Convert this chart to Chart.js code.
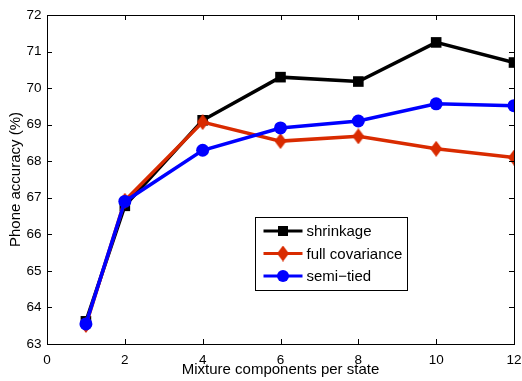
<!DOCTYPE html>
<html><head><meta charset="utf-8">
<script src="https://cdn.jsdelivr.net/npm/chart.js@4/dist/chart.umd.min.js"></script>
<style>html,body{margin:0;padding:0;background:#fff}#wrap{width:522px;height:381px}</style>
</head><body><div id="wrap"><canvas id="c" width="522" height="381"></canvas></div>
<script>
const mixtures = [1, 2, 4, 6, 8, 10, 12];
const shrinkage = [63.62, 66.78, 69.12, 70.30, 70.18, 71.25, 70.70];
const fullCovariance = [63.52, 66.92, 69.07, 68.55, 68.68, 68.34, 68.10];
const semiTied = [63.55, 66.90, 68.30, 68.91, 69.10, 69.57, 69.52];
const seriesNames = ['shrinkage', 'full covariance', 'semi\u2212tied'];
const xTicks = [0, 2, 4, 6, 8, 10, 12];
const yTicks = [63, 64, 65, 66, 67, 68, 69, 70, 71, 72];

const RED = '#d92b00', BLUE = '#0000ff', BLACK = '#000000';

function diamondCanvas(w, h, color) {
  const cv = document.createElement('canvas');
  cv.width = w; cv.height = h;
  const g = cv.getContext('2d');
  g.fillStyle = color;
  g.beginPath();
  g.moveTo(w / 2, 0); g.lineTo(w, h / 2); g.lineTo(w / 2, h); g.lineTo(0, h / 2);
  g.closePath(); g.fill();
  return cv;
}
const diamond = diamondCanvas(12, 16, RED);

function pts(ys) { return mixtures.map((x, i) => ({x: x, y: ys[i]})); }

const FONT = "'Liberation Sans', Arial, sans-serif";

const frame = {
  id: 'frame',
  afterDraw(chart) {
    const ctx = chart.ctx, a = chart.chartArea;
    const xs = chart.scales.x, ys = chart.scales.y;
    ctx.save();
    ctx.strokeStyle = '#000'; ctx.lineWidth = 1;
    ctx.strokeRect(Math.round(a.left) + 0.5, Math.round(a.top) + 0.5, Math.round(a.right - a.left), Math.round(a.bottom - a.top));
    ctx.beginPath();
    const L = 5;
    xTicks.forEach(v => {
      const p = Math.round(xs.getPixelForValue(v)) + 0.5;
      ctx.moveTo(p, a.bottom); ctx.lineTo(p, a.bottom - L);
      ctx.moveTo(p, a.top); ctx.lineTo(p, a.top + L);
    });
    yTicks.forEach(v => {
      const p = Math.round(ys.getPixelForValue(v)) + 0.5;
      ctx.moveTo(a.left, p); ctx.lineTo(a.left + L, p);
      ctx.moveTo(a.right, p); ctx.lineTo(a.right - L, p);
    });
    ctx.stroke();
    ctx.restore();
  }
};

const legendBox = {
  id: 'legendBox',
  afterDraw(chart) {
    const ctx = chart.ctx;
    const bx = 255.5, by = 217.5, bw = 152, bh = 73;
    ctx.save();
    ctx.fillStyle = '#fff';
    ctx.fillRect(bx, by, bw, bh);
    ctx.strokeStyle = '#000'; ctx.lineWidth = 1;
    ctx.strokeRect(bx, by, bw, bh);
    const rows = [by + 13.5, by + 36, by + 58.5];
    const colors = [BLACK, RED, BLUE];
    ctx.font = "15px " + FONT;
    ctx.textBaseline = 'middle';
    rows.forEach((ry, i) => {
      ctx.strokeStyle = colors[i]; ctx.lineWidth = 3;
      ctx.beginPath(); ctx.moveTo(bx + 8, ry); ctx.lineTo(bx + 47, ry); ctx.stroke();
      const cx = bx + 27.5;
      ctx.fillStyle = colors[i];
      if (i === 0) ctx.fillRect(cx - 5, ry - 5, 10, 10);
      else if (i === 1) ctx.drawImage(diamond, cx - 6, ry - 8);
      else { ctx.beginPath(); ctx.arc(cx, ry, 6, 0, Math.PI * 2); ctx.fill(); }
      ctx.fillStyle = '#000';
      ctx.fillText(seriesNames[i], bx + 51, ry + 1);
    });
    ctx.restore();
  }
};

new Chart(document.getElementById('c'), {
  type: 'line',
  data: {
    datasets: [
      {label: seriesNames[0], data: pts(shrinkage), borderColor: BLACK, backgroundColor: BLACK,
       borderWidth: 3.5, pointStyle: 'rect', pointRadius: 7.5, pointBorderWidth: 0, order: 3},
      {label: seriesNames[1], data: pts(fullCovariance), borderColor: RED, backgroundColor: RED,
       borderWidth: 3.5, pointStyle: diamond, pointRadius: 8, pointBorderWidth: 0, order: 2},
      {label: seriesNames[2], data: pts(semiTied), borderColor: BLUE, backgroundColor: BLUE,
       borderWidth: 3.5, pointStyle: 'circle', pointRadius: 6.5, pointBorderWidth: 0, order: 1}
    ]
  },
  options: {
    responsive: false, animation: false, devicePixelRatio: 1,
    layout: {padding: {left: 0, top: 15, right: 6, bottom: 0}},
    plugins: {legend: {display: false}, tooltip: {enabled: false}},
    elements: {line: {tension: 0}},
    scales: {
      x: {
        type: 'linear', min: 0, max: 12,
        afterBuildTicks(s) { s.ticks = xTicks.map(v => ({value: v})); },
        afterFit(s) { s.height = 37; s.paddingLeft = 0; s.paddingRight = 0; },
        grid: {display: false, drawTicks: false}, border: {display: false},
        ticks: {color: '#000', font: {family: FONT, size: 13.5}, padding: 8, maxRotation: 0, autoSkip: false},
        title: {display: true, text: 'Mixture components per state', color: '#000',
                font: {family: FONT, size: 15}, padding: {top: 0, bottom: 2}}
      },
      y: {
        type: 'linear', min: 63, max: 72,
        afterBuildTicks(s) { s.ticks = yTicks.map(v => ({value: v})); },
        afterFit(s) { s.width = 47; s.paddingTop = 0; s.paddingBottom = 0; },
        grid: {display: false, drawTicks: false}, border: {display: false},
        ticks: {color: '#000', font: {family: FONT, size: 13.5}, padding: 5.5, autoSkip: false},
        title: {display: true, text: 'Phone accuracy (%)', color: '#000',
                font: {family: FONT, size: 15}, padding: {top: 6.5, bottom: 0}}
      }
    }
  },
  plugins: [frame, legendBox]
});
</script></body></html>
